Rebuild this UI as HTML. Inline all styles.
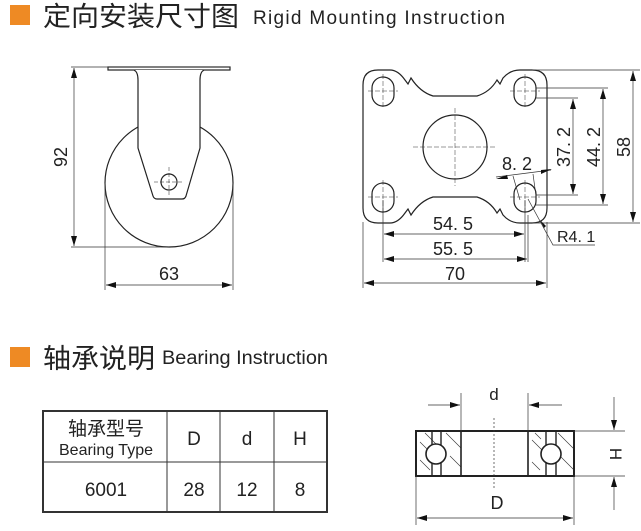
<!DOCTYPE html>
<html><head><meta charset="utf-8"><style>
body{margin:0;background:#fff;width:641px;height:531px;overflow:hidden}
svg{display:block}
.t{font-family:"Liberation Sans","Noto Sans CJK SC",sans-serif;fill:#222}
</style></head><body>
<svg width="641" height="531" viewBox="0 0 641 531" xmlns="http://www.w3.org/2000/svg">
<defs>
<marker id="a" viewBox="0 0 10 6" refX="10" refY="3" markerWidth="10" markerHeight="6" orient="auto-start-reverse" markerUnits="userSpaceOnUse"><path d="M0,0 L10,3 L0,6 z" fill="#111"/></marker>
</defs>
<!-- headings -->
<rect x="10" y="5" width="20" height="20" fill="#ee8a24"/>
<text x="43" y="26" class="t" font-size="27" textLength="196" lengthAdjust="spacingAndGlyphs">定向安装尺寸图</text>
<text x="253" y="24" class="t" font-size="19" textLength="252" lengthAdjust="spacing">Rigid  Mounting  Instruction</text>
<rect x="10" y="347" width="20" height="20" fill="#ee8a24"/>
<text x="43" y="368" class="t" font-size="27" textLength="112" lengthAdjust="spacingAndGlyphs">轴承说明</text>
<text x="162" y="364" class="t" font-size="19" textLength="166" lengthAdjust="spacingAndGlyphs">Bearing Instruction</text>

<g stroke="#222" fill="#fff" stroke-width="1.2">
<!-- left caster -->
<circle cx="169" cy="183" r="64"/>
<rect x="108" y="67" width="122" height="3"/>
<path d="M134,70 Q138,72 138,80 L138,148 L153,196 Q154,199 157,199 L182,199 Q185,199 186,196 L200,148 L200,80 Q200,72 204,70"/>
<circle cx="169" cy="182" r="8"/>
<path d="M154,182 H184 M169,167 V197" stroke-width="0.5" stroke-dasharray="4,2" fill="none"/>
</g>
<g stroke="#333" stroke-width="0.7" fill="none">
<path d="M71,67 H230 M71,247 H169"/>
<path d="M74,68 V246" marker-start="url(#a)" marker-end="url(#a)"/>
<path d="M105,183 V290 M233,183 V290"/>
<path d="M106,285 H232" marker-start="url(#a)" marker-end="url(#a)"/>
</g>
<text class="t" font-size="18" transform="translate(67,157) rotate(-90)" text-anchor="middle">92</text>
<text x="169" y="280" class="t" font-size="18" text-anchor="middle">63</text>

<!-- right plate -->
<g stroke="#222" fill="none" stroke-width="1.2">
<path d="M363,85 Q363,70 378,70 L390,70 Q398,70 405,80 L408,84 L411,78 Q420,92 433,96 L477,96 Q490,92 497,80 L500,84 L503,78 Q510,70 520,70 L532,70 Q547,70 547,85 L547,208 Q547,223 532,223 L520,223 Q510,223 503,215 L500,209 L497,213 Q490,201 477,197 L433,197 Q420,201 411,215 L408,209 L405,213 Q398,223 390,223 L378,223 Q363,223 363,208 Z"/>
<rect x="372" y="77" width="22" height="29" rx="11"/>
<rect x="514" y="77" width="22" height="29" rx="11"/>
<rect x="372" y="183" width="22" height="29" rx="11"/>
<rect x="514" y="183" width="22" height="29" rx="11"/>
<circle cx="455" cy="147" r="32"/>
</g>
<g stroke="#333" stroke-width="0.5" stroke-dasharray="5,2" fill="none">
<path d="M413,147 H497 M455,108 V186"/>
<path d="M368,91 H398 M383,74 V109 M510,91 H540 M525,74 V109 M368,197 H398 M383,180 V215 M510,197 H540 M525,180 V215"/>
</g>
<g stroke="#333" stroke-width="0.7" fill="none">
<path d="M383,200 V262 M525,200 V262 M528,215 V262 M363,222 V288 M547,222 V288"/>
<path d="M384,234 H524" marker-start="url(#a)" marker-end="url(#a)"/>
<path d="M384,259 H527" marker-start="url(#a)" marker-end="url(#a)"/>
<path d="M364,283 H546" marker-start="url(#a)" marker-end="url(#a)"/>
<path d="M532,70 H640 M536,88 H608 M536,98 H578 M536,195 H578 M536,205 H608 M532,223 H640"/>
<path d="M573,99 V194" marker-start="url(#a)" marker-end="url(#a)"/>
<path d="M603,89 V204" marker-start="url(#a)" marker-end="url(#a)"/>
<path d="M633,71 V222" marker-start="url(#a)" marker-end="url(#a)"/>
<path d="M496,177 L551,170 M513,176 L520,200 M533,174 L536,196"/>
<path d="M528,199 L553,245 H595"/>
</g>
<path d="M496,179 L507,175 L508,179 Z M552,169 L541,170 L541,174 Z M540,220 L546,226 L544,228 Z" fill="#111"/>
<text x="453" y="230" class="t" font-size="18" text-anchor="middle">54. 5</text>
<text x="453" y="255" class="t" font-size="18" text-anchor="middle">55. 5</text>
<text x="455" y="280" class="t" font-size="18" text-anchor="middle">70</text>
<text x="502" y="170" class="t" font-size="18">8. 2</text>
<text x="557" y="242" class="t" font-size="16">R4. 1</text>
<text class="t" font-size="18" transform="translate(570,147) rotate(-90)" text-anchor="middle">37. 2</text>
<text class="t" font-size="18" transform="translate(600,147) rotate(-90)" text-anchor="middle">44. 2</text>
<text class="t" font-size="18" transform="translate(630,147) rotate(-90)" text-anchor="middle">58</text>

<!-- table -->
<g stroke="#333" fill="none">
<rect x="43" y="411" width="284" height="101" stroke-width="2"/>
<path d="M43,462 H327 M167,411 V512 M220,411 V512 M274,411 V512" stroke-width="1"/>
</g>
<text x="106" y="435" class="t" font-size="19" text-anchor="middle">轴承型号</text>
<text x="106" y="455" class="t" font-size="16" text-anchor="middle">Bearing Type</text>
<text x="194" y="445" class="t" font-size="19" text-anchor="middle">D</text>
<text x="247" y="445" class="t" font-size="19" text-anchor="middle">d</text>
<text x="300" y="445" class="t" font-size="19" text-anchor="middle">H</text>
<text x="106" y="496" class="t" font-size="19" text-anchor="middle">6001</text>
<text x="194" y="496" class="t" font-size="19" text-anchor="middle">28</text>
<text x="247" y="496" class="t" font-size="19" text-anchor="middle">12</text>
<text x="300" y="496" class="t" font-size="19" text-anchor="middle">8</text>

<!-- bearing -->
<g stroke="#333" stroke-width="0.6" fill="none">
<path d="M420,442 L436,458 M425,433 L444,452 M420,460 L430,470 M446,433 L461,448 M450,456 L461,467 M532,440 L543,451 M532,462 L540,470 M558,433 L574,449 M560,456 L574,470 M535,433 L541,439"/>
</g>
<g stroke="#222" fill="none">
<rect x="416" y="431" width="158" height="45" stroke-width="2"/>
<path d="M461,431 V476 M528,431 V476" stroke-width="1.6"/>
<path d="M432,431 V476 M441,431 V476 M546,431 V476 M556,431 V476" stroke-width="1.4"/>
</g>
<circle cx="436" cy="454" r="10" fill="#fff" stroke="#222" stroke-width="1.6"/>
<circle cx="551" cy="454" r="10" fill="#fff" stroke="#222" stroke-width="1.6"/>
<g stroke="#333" stroke-width="0.7" fill="none">
<path d="M494,418 V488" stroke-dasharray="2,2"/>
<path d="M461,393 V431 M528,393 V431 M416,476 V525 M574,476 V525 M574,431 H625 M574,476 H625"/>
<path d="M428,405 H460" marker-end="url(#a)"/>
<path d="M562,405 H529" marker-end="url(#a)"/>
<path d="M417,518 H573" marker-start="url(#a)" marker-end="url(#a)"/>
<path d="M614,397 V430" marker-end="url(#a)"/>
<path d="M614,510 V477" marker-end="url(#a)"/>
</g>
<text x="494" y="400" class="t" font-size="17" text-anchor="middle">d</text>
<text x="497" y="509" class="t" font-size="18" text-anchor="middle">D</text>
<text class="t" font-size="17" transform="translate(610,454) rotate(90)" text-anchor="middle">H</text>
</svg>
</body></html>
